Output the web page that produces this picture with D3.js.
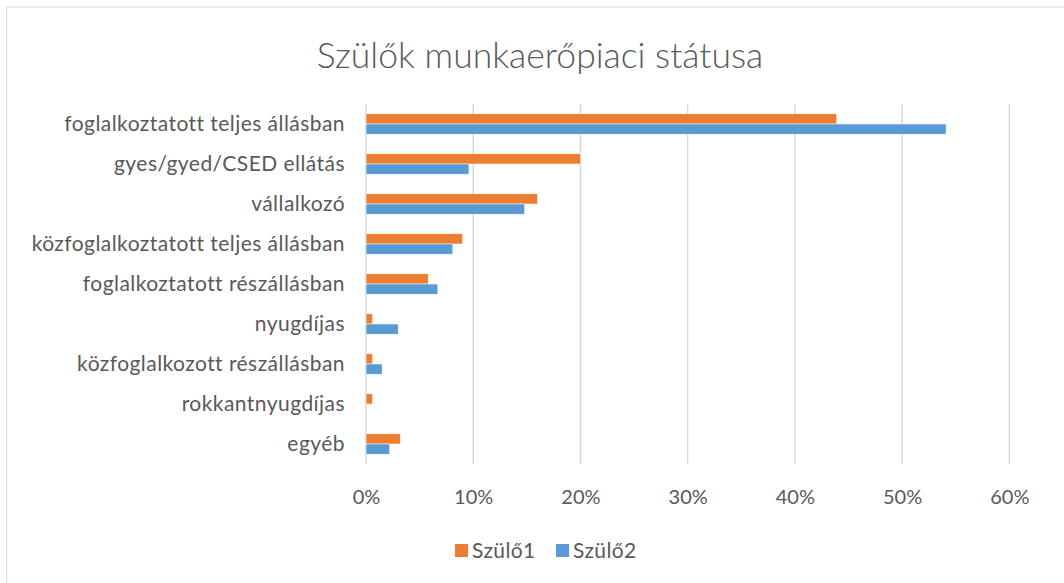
<!DOCTYPE html>
<html>
<head>
<meta charset="utf-8">
<script src="https://cdn.jsdelivr.net/npm/d3@7"></script>
<style>
  body { margin: 0; background: #fff; }
  text { font-family: Lato, "Open Sans", sans-serif; fill: #595959; }
</style>
</head>
<body>
<div class="chart"></div>
<script>
// categories and values (shares, 0..1)
var categories = [
    "foglalkoztatott teljes állásban",
    "gyes/gyed/CSED ellátás",
    "vállalkozó",
    "közfoglalkoztatott teljes állásban",
    "foglalkoztatott részállásban",
    "nyugdíjas",
    "közfoglalkozott részállásban",
    "rokkantnyugdíjas",
    "egyéb"
];
var szulo1 = [0.439, 0.200, 0.160, 0.090, 0.058, 0.006, 0.006, 0.006, 0.032];
var szulo2 = [0.541, 0.096, 0.148, 0.081, 0.067, 0.030, 0.015, 0.000, 0.022];
var seriesNames = ["Szülő1", "Szülő2"];
var seriesColors = ["#ED7D31", "#5B9BD5"];
var xTicks = [0, 0.1, 0.2, 0.3, 0.4, 0.5, 0.6];

var W = 1064, H = 583;
var margin = {top: 104, right: 55, bottom: 119, left: 366};

var svg = d3.select(".chart").append("svg")
    .attr("width", W)
    .attr("height", H);

// outer chart border
svg.append("rect")
    .attr("x", 6.5)
    .attr("y", 7)
    .attr("width", W)
    .attr("height", H)
    .attr("fill", "none")
    .attr("stroke", "#d9d9d9")
    .attr("stroke-width", 1);

// title
svg.append("text")
    .attr("x", 540)
    .attr("y", 68)
    .attr("text-anchor", "middle")
    .style("font-size", "35.5px")
    .style("font-weight", 300)
    .text("Szülők munkaerőpiaci státusa");

// scales
var x = d3.scaleLinear().domain([0, 0.6]).range([margin.left, W - margin.right + 0.3]);
var y = d3.scaleBand().domain(categories).range([margin.top, H - margin.bottom]).paddingInner(0.49).paddingOuter(0.245);
var sub = d3.scaleBand().domain(seriesNames).range([0, y.bandwidth()]);

// gridlines
svg.append("g")
    .selectAll("line")
    .data(xTicks)
    .enter()
    .append("line")
    .attr("x1", d => x(d))
    .attr("x2", d => x(d))
    .attr("y1", margin.top)
    .attr("y2", H - margin.bottom)
    .attr("stroke", "#d9d9d9")
    .attr("stroke-width", 1.5);

// tick labels
var xAxis = d3.axisBottom(x).tickValues(xTicks).tickFormat(d3.format(".0%")).tickSize(0).tickPadding(0);
var gx = svg.append("g")
    .attr("transform", `translate(0, ${H - margin.bottom + 40})`)
    .call(xAxis);
gx.select(".domain").remove();
gx.selectAll("text")
    .attr("fill", "#595959")
    .attr("dy", 0)
    .style("font-size", "20px")
    .style("font-family", "Lato, 'Open Sans', sans-serif");

// category labels
svg.append("g")
    .selectAll("text")
    .data(categories)
    .enter()
    .append("text")
    .attr("x", 345)
    .attr("y", d => y(d) + y.bandwidth() / 2)
    .attr("dy", "0.35em")
    .attr("text-anchor", "end")
    .style("font-size", "21px")
    .style("letter-spacing", "0.45px")
    .text(d => d);

// bars
var series = [szulo1, szulo2];
series.forEach(function(vals, i) {
    svg.append("g")
        .selectAll("rect")
        .data(categories)
        .enter()
        .append("rect")
        .attr("x", x(0))
        .attr("y", d => y(d) + sub(seriesNames[i]))
        .attr("width", (d, j) => x(vals[j]) - x(0))
        .attr("height", sub.bandwidth())
        .attr("fill", seriesColors[i])
        .attr("stroke", "#fff")
        .attr("stroke-width", 0.5);
});

// legend
var legendX = [455, 556];
var legend = svg.append("g");
seriesNames.forEach(function(name, i) {
    legend.append("rect")
        .attr("x", legendX[i])
        .attr("y", 544)
        .attr("width", 13)
        .attr("height", 13)
        .attr("fill", seriesColors[i]);
    legend.append("text")
        .attr("x", legendX[i] + 17)
        .attr("y", 550.5)
        .attr("dy", "0.35em")
        .style("font-size", "21px")
        .style("letter-spacing", "0.4px")
        .text(name);
});
</script>
</body>
</html>
